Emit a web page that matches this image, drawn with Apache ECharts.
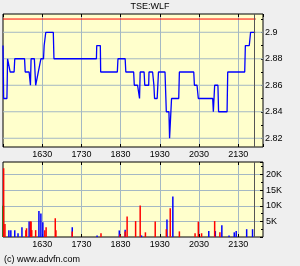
<!DOCTYPE html>
<html><head><meta charset="utf-8">
<script src="https://cdn.jsdelivr.net/npm/echarts@6/dist/echarts.min.js"></script>
<style>html,body{margin:0;padding:0;background:#efefef}#topc{width:300px;height:150px}#botc{width:300px;height:116px}</style>
</head><body><div id="topc"></div><div id="botc"></div>
<script>
// Price series (minutes since midnight, price)
var priceTimes = [930,931,936,937,940,941,947,948,963,964,970,972,973,978,980,983,984,986,988,992,993,995,995.5,1007,1008,1073,1073.5,1079,1079.5,1105,1106,1117,1118,1130,1131,1136,1139,1140,1146,1147,1153,1153.5,1159,1161,1162,1166,1168,1178,1180,1184,1185,1186,1188,1199,1200,1222,1223,1227,1229,1251,1252,1254,1259,1260,1273,1274,1300,1301,1307,1309,1316];
var priceValues = [2.89,2.85,2.85,2.88,2.88,2.87,2.87,2.88,2.88,2.87,2.87,2.86,2.88,2.88,2.86,2.86,2.87,2.87,2.88,2.88,2.89,2.89,2.9,2.9,2.88,2.88,2.89,2.89,2.87,2.87,2.88,2.88,2.87,2.87,2.86,2.86,2.85,2.87,2.87,2.86,2.86,2.87,2.87,2.86,2.85,2.85,2.87,2.87,2.84,2.84,2.82,2.82,2.85,2.85,2.87,2.87,2.86,2.86,2.85,2.85,2.84,2.86,2.86,2.84,2.84,2.87,2.87,2.89,2.89,2.9,2.9];
var refPrice = 2.91;
var refTimes = [930,1317];
var nowTime = 1315;
// Volume bars
var redTimes = [931,933,965,966,972,973,974,980,994,996,1010,1011,1036,1080,1109,1117,1120,1133,1140,1148,1163,1180,1186,1200,1224,1229,1234,1254,1262];
var redVols  = [22000,4200,2200,2800,5000,5000,2200,2200,2200,3100,6000,2200,1800,1200,800,1800,6600,5100,10100,1500,5000,2500,9200,1800,1200,4900,1200,5100,1500];
var blueTimes = [939,942,948,953,959,970,985,988,991,1036,1074,1108,1117,1142,1181,1190,1245,1255,1265,1276,1284,1287,1303,1312];
var blueVols  = [2200,2200,2200,1200,3100,5000,8300,7560,4700,3100,500,2100,2300,500,5600,13000,1900,1900,3800,500,1500,1900,2500,2500];
var greenTimes = [930];
var greenVols = [10000];
// Ticks
var priceLabels = [2.82,2.84,2.86,2.88,2.9];
var priceMinor = [2.82,2.83,2.84,2.85,2.86,2.87,2.88,2.89,2.9,2.91];

function zip(a,b){return a.map(function(v,i){return [v,b[i]];});}
var font = 'Liberation Sans, Arial, sans-serif';
var X0 = 930, X1 = 1328;
var PMIN = 2.8134, PMAX = 2.9138;
var GRID = '#a4b8c4';
function tlabel(v){var h=Math.floor(v/60),m=Math.round(v%60);return String(h*100+m);}
function xa(pos, labels, split){
  return {type:'value', position:pos, min:X0, max:X1, interval:60,
    axisLine:{show:false},
    axisTick:{show:true, inside:true, length:3, lineStyle:{color:'#000'}},
    axisLabel:{show:labels, showMinLabel:false, showMaxLabel:false, formatter:tlabel, fontSize:9, fontFamily:font, color:'#000', margin:3},
    splitLine:{show:split, showMinLine:false, showMaxLine:false, lineStyle:{color:GRID, width:1}}};
}
var gridSeries = priceLabels.map(function(p){
  return {type:'line', data:[[X0,p],[X1,p]], symbol:'none', z:1, lineStyle:{color:GRID, width:1}, silent:true};
});

var chartTop = echarts.init(document.getElementById('topc'), null, {renderer:'canvas'});
chartTop.setOption({
  animation:false,
  backgroundColor:'#efefef',
  title:{text:'TSE:WLF', left:'center', top:2, padding:0, textStyle:{fontSize:9, fontWeight:'normal', fontFamily:font, color:'#000'}},
  grid:{left:3, right:37, top:14, height:133, show:true, backgroundColor:'#ffffcc', borderColor:'#000', borderWidth:1},
  xAxis:[ xa('bottom',false,true), xa('top',false,false) ],
  yAxis:{type:'value', position:'right', min:PMIN, max:PMAX,
      axisLine:{show:false},
      axisTick:{show:true, inside:true, length:2, lineStyle:{color:'#000'}, customValues:priceMinor},
      axisLabel:{customValues:priceLabels, formatter:function(v){return String(+v.toFixed(2));}, fontSize:9, fontFamily:font, color:'#000', margin:2},
      splitLine:{show:false}},
  series: gridSeries.concat([
    {type:'line', data:[[nowTime,PMIN],[nowTime,PMAX]], symbol:'none', z:10, lineStyle:{color:'#555', width:1}, silent:true},
    {type:'line', data:refTimes.map(function(t){return [t,refPrice];}), symbol:'none', lineStyle:{color:'#ff0000', width:1}, silent:true},
    {type:'line', data:zip(priceTimes,priceValues), symbol:'none', lineStyle:{color:'#0000ff', width:1.3}, silent:true}
  ])
});

var chartBot = echarts.init(document.getElementById('botc'), null, {renderer:'canvas'});
chartBot.setOption({
  animation:false,
  backgroundColor:'#efefef',
  title:{text:'(c) www.advfn.com', left:4, top:105, padding:0, textStyle:{fontSize:9, fontWeight:'normal', fontFamily:font, color:'#000'}},
  grid:{left:3, right:37, top:12, height:75, show:true, backgroundColor:'#ffffcc', borderColor:'#000', borderWidth:1},
  xAxis:[ xa('bottom',true,true), xa('top',true,false) ],
  yAxis:{type:'value', position:'right', min:0, max:24000, interval:5000,
      axisLine:{show:false},
      axisTick:{show:true, inside:true, length:3, lineStyle:{color:'#000'}},
      minorTick:{show:true, splitNumber:2, length:2, lineStyle:{color:'#000'}},
      axisLabel:{showMinLabel:false, showMaxLabel:false, formatter:function(v){return (v/1000)+'K';}, fontSize:9, fontFamily:font, color:'#000', margin:3},
      splitLine:{show:true, showMinLine:false, showMaxLine:false, lineStyle:{color:GRID, width:1}}},
  series:[
    {type:'line', data:[[nowTime,0],[nowTime,24000]], symbol:'none', z:10, lineStyle:{color:'#555', width:1}, silent:true},
    {type:'bar', data:zip(greenTimes,greenVols), barWidth:2, barGap:'-100%', itemStyle:{color:'#008000'}, silent:true},
    {type:'bar', data:zip(blueTimes,blueVols), barWidth:1.5, barGap:'-100%', itemStyle:{color:'#0000ff'}, silent:true},
    {type:'bar', data:zip(redTimes,redVols), barWidth:1.5, barGap:'-100%', itemStyle:{color:'#ff0000'}, silent:true}
  ]
});
</script></body></html>
